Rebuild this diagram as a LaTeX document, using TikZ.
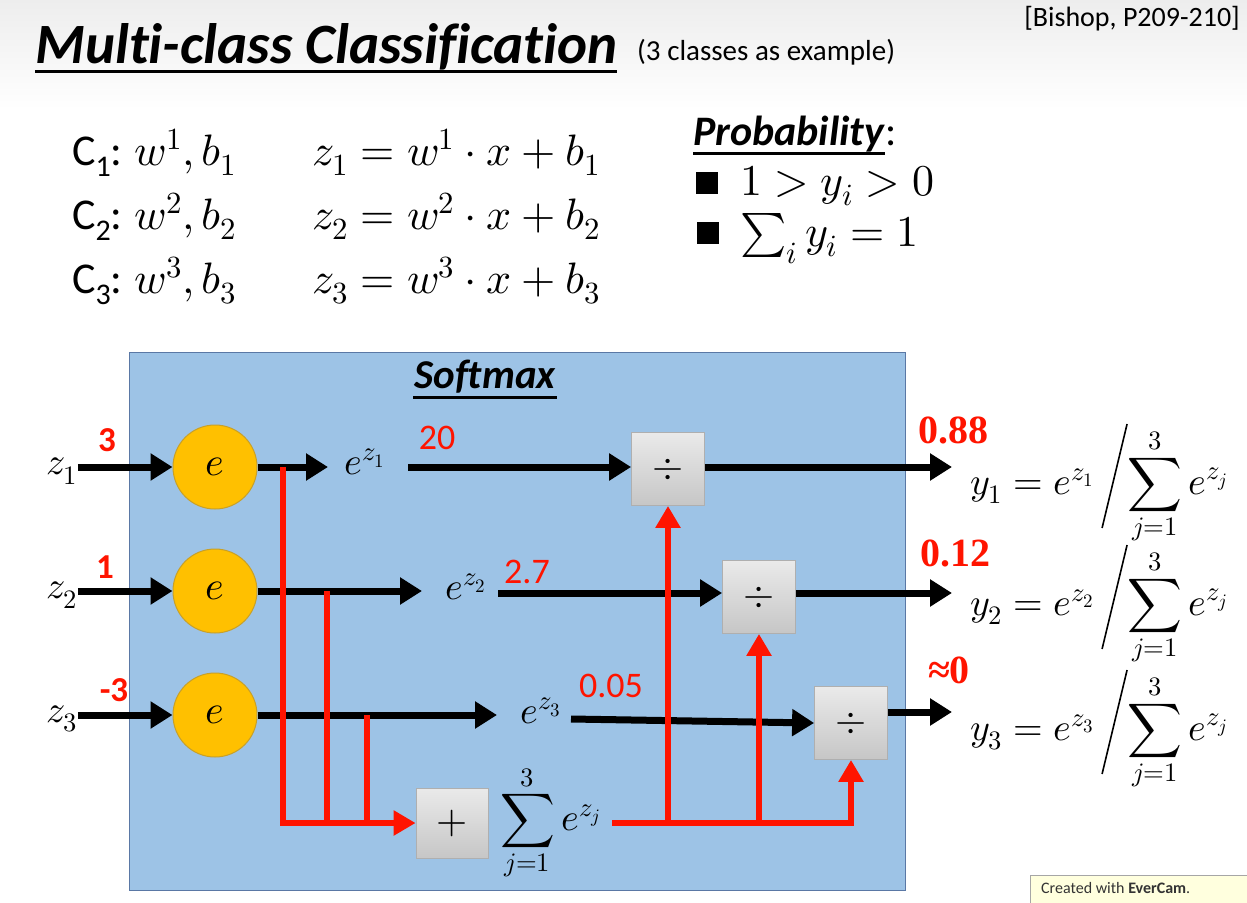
\documentclass[tikz,border=0pt]{standalone}
\usepackage{fontspec}
\usepackage{unicode-math}
\setmathfont{Latin Modern Math}
\setmainfont{Carlito}[Ligatures={NoCommon}]
\newfontfamily\timesf{Liberation Serif}
\usetikzlibrary{arrows.meta,calc}
\definecolor{sbblue}{RGB}{157,195,230}
\definecolor{sbborder}{RGB}{90,120,165}
\definecolor{eorange}{RGB}{255,192,0}
\definecolor{eborder}{RGB}{200,160,40}
\definecolor{vred}{RGB}{255,20,0}
\definecolor{boxtop}{RGB}{234,234,234}
\definecolor{boxbot}{RGB}{198,198,198}
\definecolor{boxline}{RGB}{175,175,175}
\definecolor{wmfill}{RGB}{255,255,222}
\begin{document}
\begin{tikzpicture}[x=1pt,y=-1pt,
  blk/.style={line width=7pt, draw=black, -{Triangle[length=22pt,width=26pt]}},
  redl/.style={line width=6pt, draw=vred},
  reda/.style={redl, -{Triangle[length=22pt,width=24pt]}},
  expn/.style={circle, minimum size=84pt, inner sep=0pt, fill=eorange, draw=eborder, line width=1pt, font=\fontsize{40}{40}\selectfont},
  opbox/.style={rectangle, minimum width=73pt, minimum height=73pt, inner sep=0pt, top color=boxtop, bottom color=boxbot, draw=boxline, line width=0.8pt, font=\fontsize{40}{40}\selectfont},
  mth/.style={inner sep=0pt, font=\fontsize{38}{44}\selectfont},
  topmth/.style={inner sep=0pt, font=\fontsize{44}{50}\selectfont},
  rednum/.style={text=vred, font=\fontsize{35}{35}\selectfont\bfseries, inner sep=0pt},
  redval/.style={text=vred, font=\fontsize{36}{36}\selectfont, inner sep=0pt},
  outval/.style={text=vred, font=\fontsize{40}{40}\selectfont\timesf\bfseries, inner sep=0pt},
  uline/.style={line width=3pt, draw=black},
  slash/.style={line width=1.6pt, draw=black},
]
\useasboundingbox (0,0) rectangle (1247,902);
\fill[top color=gray!14, bottom color=white] (0,0) rectangle (1247,110);

% title
\node[anchor=base west, inner sep=0pt, font=\fontsize{57}{60}\selectfont\bfseries\itshape] (title) at (35,63) {Multi-class Classification};
\draw[uline] ([yshift=-8pt]title.base west) -- ([yshift=-8pt]title.base east);
\node[anchor=base west, inner sep=0pt, font=\fontsize{29}{30}\selectfont] (example) at (637,60) {(3 classes as example)};
\node[anchor=base east, inner sep=0pt, font=\fontsize{28}{30}\selectfont] (cite) at (1240,27) {[Bishop, P209-210]};

% class parameters
\node[anchor=base west, inner sep=0pt, font=\fontsize{44}{50}\selectfont] (c1) at (72,165) {C\raisebox{-0.25em}{\fontsize{30}{30}\selectfont 1}:\hspace{12pt}$w^1, b_1$};
\node[anchor=base west, inner sep=0pt, font=\fontsize{44}{50}\selectfont] (c2) at (72,229) {C\raisebox{-0.25em}{\fontsize{30}{30}\selectfont 2}:\hspace{12pt}$w^2, b_2$};
\node[anchor=base west, inner sep=0pt, font=\fontsize{44}{50}\selectfont] (c3) at (72,293) {C\raisebox{-0.25em}{\fontsize{30}{30}\selectfont 3}:\hspace{12pt}$w^3, b_3$};
\node[topmth, anchor=base west] (eq1) at (312,165) {$z_1 = w^1\cdot x + b_1$};
\node[topmth, anchor=base west] (eq2) at (312,229) {$z_2 = w^2\cdot x + b_2$};
\node[topmth, anchor=base west] (eq3) at (312,293) {$z_3 = w^3\cdot x + b_3$};

% probability
\node[anchor=base west, inner sep=0pt, font=\fontsize{42}{46}\selectfont] (prob) at (693,145) {\textbf{\textit{Probability}}:};
\draw[uline] (693,153) -- (885,153);
\node[fill=black, minimum size=22pt, inner sep=0pt] (bul1) at (707,183) {};
\node[fill=black, minimum size=22pt, inner sep=0pt] (bul2) at (708,233) {};
\node[topmth, anchor=base west] (p1) at (740,195) {$1 > y_i > 0$};
\node[topmth, anchor=base west] (p2) at (740,246) {$\sum_i y_i = 1$};

% softmax box
\node[draw=sbborder, fill=sbblue, line width=1pt, minimum width=776pt, minimum height=538pt, inner sep=0pt, anchor=north west] (smx) at (129,352) {};
\node[anchor=base, inner sep=0pt, font=\fontsize{41}{46}\selectfont\bfseries\itshape] (smxlab) at (485,388) {Softmax};
\draw[uline] (413,397) -- (557,397);

% inputs
\node[mth] (z1) at (62,471) {$z_1$};
\node[mth] (z2) at (62,595) {$z_2$};
\node[mth] (z3) at (62,719) {$z_3$};
\node[expn] (e1) at (215,467) {$e$};
\node[expn] (e2) at (215,591) {$e$};
\node[expn] (e3) at (215,715) {$e$};
\node[rednum] (v1) at (107,440) {3};
\node[rednum] (v2) at (105,567) {1};
\node[rednum] (v3) at (114,690) {-3};

% operator boxes
\node[opbox] (d1) at (668,469) {$\div$};
\node[opbox] (d2) at (759,597) {$\div$};
\node[opbox] (d3) at (851,723) {$\div$};
\node[opbox, minimum width=72pt, minimum height=70pt] (plus) at (452,823) {$+$};

% exponent labels
\node[mth] (ez1) at (365,462) {$e^{z_1}$};
\node[mth] (ez2) at (466,587) {$e^{z_2}$};
\node[mth] (ez3) at (541,711) {$e^{z_3}$};
\node[redval] (n1) at (437,438) {20};
\node[redval] (n2) at (527,572) {2.7};
\node[redval] (n3) at (611,686) {0.05};
\node[mth, anchor=west] (sumz) at (500,823) {$\displaystyle\sum_{j=1}^{3} e^{z_j}$};

% coordinates for free ends
\coordinate (t1) at (328,467);
\coordinate (t2) at (422,591);
\coordinate (t3) at (497,715);
\coordinate (s1) at (408,467);
\coordinate (s2) at (498,593);
\coordinate (s3) at (571,719);
\coordinate (o1) at (952,467);
\coordinate (o2) at (952,593);
\coordinate (o3) at (952,712);
\coordinate (r1) at (283,467);
\coordinate (r2) at (327,591);
\coordinate (r3) at (367,715);
\coordinate (q0) at (612,823);

% black connectors
\draw[blk] (z1.east |- e1) -- (e1.west);
\draw[blk] (z2.east |- e2) -- (e2.west);
\draw[blk] (z3.east |- e3) -- (e3.west);
\draw[blk] (e1.east) -- (t1);
\draw[blk] (e2.east) -- (t2);
\draw[blk] (e3.east) -- (t3);
\draw[blk] (s1) -- (d1.west |- s1);
\draw[blk] (s2) -- (d2.west |- s2);
\draw[blk] (s3) -- (d3.west);
\draw[blk] (d1.east |- o1) -- (o1);
\draw[blk] (d2.east |- o2) -- (o2);
\draw[blk] (d3.east |- o3) -- (o3);

% red connectors
\draw[reda] (r1) |- (plus.west);
\draw[redl] (r2) -- (r2 |- plus.west);
\draw[redl] (r3) -- (r3 |- plus.west);
\draw[reda] (q0) -| (d3.south);
\draw[reda] (d1.south |- q0) -- (d1.south);
\draw[reda] (d2.south |- q0) -- (d2.south);

% outputs
\node[outval] (out1) at (953,430) {0.88};
\node[outval] (out2) at (955,553) {0.12};
\node[outval] (out3) at (949,670) {≈0};
\node[mth, anchor=base west] (y1a) at (970,494) {$y_1 = e^{z_1}$};
\node[mth, anchor=base west] (y2a) at (970,615) {$y_2 = e^{z_2}$};
\node[mth, anchor=base west] (y3a) at (970,740) {$y_3 = e^{z_3}$};
\draw[slash] (y1a.base east) ++(8,34) -- ++(25,-104);
\draw[slash] (y2a.base east) ++(8,34) -- ++(25,-104);
\draw[slash] (y3a.base east) ++(8,34) -- ++(25,-104);
\node[mth, anchor=base west] (y1b) at (1127,494) {$\displaystyle\sum_{j=1}^{3} e^{z_j}$};
\node[mth, anchor=base west] (y2b) at (1127,615) {$\displaystyle\sum_{j=1}^{3} e^{z_j}$};
\node[mth, anchor=base west] (y3b) at (1127,740) {$\displaystyle\sum_{j=1}^{3} e^{z_j}$};

% watermark
\node[draw=gray!70, fill=wmfill, line width=1pt, anchor=north west, minimum width=220pt, minimum height=34pt, inner sep=0pt] (wm) at (1030,875) {};
\node[anchor=base west, inner sep=0pt, font=\fontsize{16}{18}\selectfont, text=black!80] (wmtext) at (1041,893) {Created with \textbf{EverCam}.};
\end{tikzpicture}
\end{document}
